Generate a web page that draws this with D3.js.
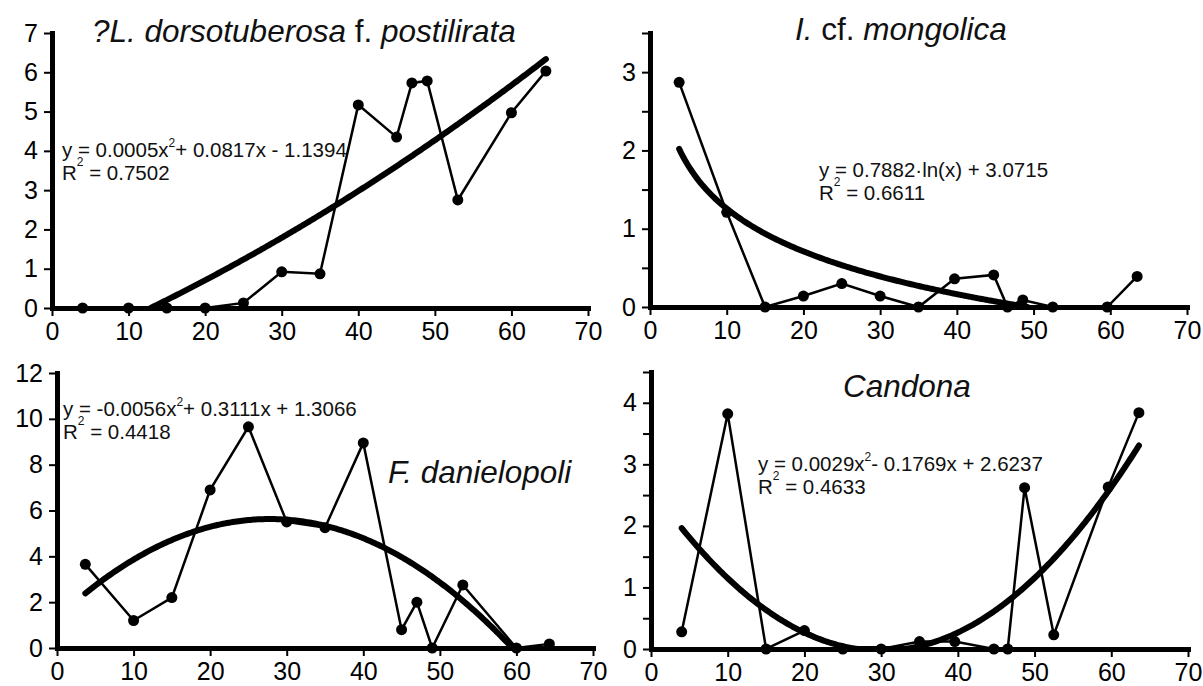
<!DOCTYPE html>
<html>
<head>
<meta charset="utf-8">
<style>
body { margin: 0; background: #fff; }
svg { display: block; font-family: "Liberation Sans", Arial, sans-serif; }
.axis .domain { stroke: #000; stroke-width: 5; stroke-linecap: square; }
.axis .tick line { stroke: #000; stroke-width: 2; }
.axis text { font-family: "Liberation Sans", Arial, sans-serif; font-size: 25px; fill: #000; }
</style>
</head>
<body>
<svg class="chart"></svg>

<script src="https://d3js.org/d3.v7.min.js"></script>
<script>
width  = 1203
height = 686

xTicks = [0, 10, 20, 30, 40, 50, 60, 70]

// ?L. dorsotuberosa f. postilirata
dorsoX = [4, 10, 15, 20, 25, 30, 35, 40, 45, 47, 49, 53, 60, 64.5]
dorsoY = [0, 0, 0, 0, 0.13, 0.92, 0.87, 5.17, 4.35, 5.73, 5.78, 2.75, 4.97, 6.03]
dorsoYTicks = [0, 1, 2, 3, 4, 5, 6, 7]
dorsoYLabels = [0, 1, 2, 3, 4, 5, 6, 7]
dorsoTrend = [0.00053, 0.0817, -1.1394]          // a*x^2 + b*x + c
dorsoTitle = [["?L. dorsotuberosa", true], [" f. ", false], ["postilirata", true]]
dorsoEq = ["y = 0.0005x²+ 0.0817x - 1.1394", "R² = 0.7502"]

// I. cf. mongolica
mongX = [3.8, 10, 15, 20, 25, 30, 35, 39.7, 44.8, 46.6, 48.6, 52.5, 59.6, 63.5]
mongY = [2.87, 1.21, 0, 0.14, 0.3, 0.14, 0, 0.36, 0.41, 0, 0.09, 0, 0, 0.39]
mongYTicks = [0, 0.5, 1, 1.5, 2, 2.5, 3, 3.5]
mongYLabels = [0, 1, 2, 3]
mongTrend = [-0.7882, 3.0715]                     // a*ln(x) + b
mongTitle = [["I.", true], [" cf. ", false], ["mongolica", true]]
mongEq = ["y = 0.7882·ln(x) + 3.0715", "R² = 0.6611"]

// F. danielopoli
danX = [3.7, 10, 15, 20, 25, 30, 35, 40, 45, 47, 49, 53, 60, 64.3]
danY = [3.65, 1.2, 2.2, 6.9, 9.65, 5.5, 5.25, 8.95, 0.8, 2.0, 0, 2.75, 0, 0.18]
danYTicks = [0, 2, 4, 6, 8, 10, 12]
danYLabels = [0, 2, 4, 6, 8, 10, 12]
danTrend = [-0.0056, 0.3111, 1.3066]
danTitle = [["F. danielopoli", true]]
danEq = ["y = -0.0056x²+ 0.3111x + 1.3066", "R² = 0.4418"]

// Candona
candX = [4, 10, 15, 20, 25, 30, 35, 39.6, 44.7, 46.5, 48.7, 52.5, 59.6, 63.6]
candY = [0.28, 3.82, 0, 0.3, 0, 0, 0.12, 0.12, 0, 0, 2.62, 0.23, 2.63, 3.84]
candYTicks = [0, 0.5, 1, 1.5, 2, 2.5, 3, 3.5, 4, 4.5]
candYLabels = [0, 1, 2, 3, 4]
candTrend = [0.00295, -0.1769, 2.6237]
candTitle = [["Candona", true]]
candEq = ["y = 0.0029x²- 0.1769x + 2.6237", "R² = 0.4633"]

quad = c => v => c[0] * v * v + c[1] * v + c[2]
logf = c => v => c[0] * Math.log(v) + c[1]

panels = [
  {xs: dorsoX, ys: dorsoY, yMax: 7, yTicks: dorsoYTicks, yLabels: dorsoYLabels,
   f: quad(dorsoTrend), t0: 12.9, t1: 64.5, title: dorsoTitle, eq: dorsoEq,
   left: 52, right: 588, top: 33, bottom: 308,
   titlePos: [92, 42], eqPos: [62, 157]},
  {xs: mongX, ys: mongY, yMax: 3.5, yTicks: mongYTicks, yLabels: mongYLabels,
   f: logf(mongTrend), t0: 3.8, t1: 49.2, title: mongTitle, eq: mongEq,
   left: 650, right: 1187, top: 33, bottom: 307,
   titlePos: [795, 40], eqPos: [819, 177]},
  {xs: danX, ys: danY, yMax: 12, yTicks: danYTicks, yLabels: danYLabels,
   f: quad(danTrend), t0: 3.7, t1: 59.5, title: danTitle, eq: danEq,
   left: 57, right: 593, top: 373, bottom: 648,
   titlePos: [388, 483], eqPos: [63, 416]},
  {xs: candX, ys: candY, yMax: 4.5, yTicks: candYTicks, yLabels: candYLabels,
   f: quad(candTrend), t0: 4, t1: 63.6, title: candTitle, eq: candEq,
   left: 651, right: 1188, top: 372, bottom: 649,
   titlePos: [843, 397], eqPos: [758, 471]}
]

const svg = d3.select("svg")
    .attr("width", width)
    .attr("height", height)
    .attr("viewBox", [0, 0, width, height]);

svg.append("rect").attr("width", width).attr("height", height).attr("fill", "#fff");

panels.forEach(p => {
  const x = d3.scaleLinear().domain([0, 70]).range([p.left, p.right]);
  const y = d3.scaleLinear().domain([0, p.yMax]).range([p.bottom, p.top]);

  svg.append("g")
      .attr("class", "axis")
      .attr("transform", `translate(0,${p.bottom})`)
      .call(d3.axisBottom(x).tickValues(xTicks).tickSize(8).tickSizeOuter(0).tickPadding(6));

  svg.append("g")
      .attr("class", "axis")
      .attr("transform", `translate(${p.left},0)`)
      .call(d3.axisLeft(y).tickValues(p.yTicks)
        .tickFormat(d => p.yLabels.includes(d) ? d : "")
        .tickSize(8).tickSizeOuter(0).tickPadding(6));

  // trend line
  const tx = d3.range(p.t0, p.t1, 0.25).concat([p.t1]);
  svg.append("path")
      .datum(tx.map(v => [v, Math.max(0, p.f(v))]))
      .attr("fill", "none")
      .attr("stroke", "#000")
      .attr("stroke-width", 6)
      .attr("stroke-linecap", "round")
      .attr("d", d3.line().x(d => x(d[0])).y(d => y(d[1])));

  // observed values
  const pts = p.xs.map((v, i) => [v, p.ys[i]]);
  svg.append("path")
      .datum(pts)
      .attr("fill", "none")
      .attr("stroke", "#000")
      .attr("stroke-width", 2.5)
      .attr("d", d3.line().x(d => x(d[0])).y(d => y(d[1])));

  svg.append("g")
    .selectAll("circle")
    .data(pts)
    .join("circle")
      .attr("cx", d => x(d[0]))
      .attr("cy", d => y(d[1]))
      .attr("r", 5.5)
      .attr("fill", "#000");

  // title
  const t = svg.append("text")
      .attr("x", p.titlePos[0])
      .attr("y", p.titlePos[1])
      .attr("font-size", 31.5)
      .attr("fill", "#111");
  p.title.forEach(([s, it]) => t.append("tspan")
      .attr("font-style", it ? "italic" : "normal")
      .attr("xml:space", "preserve")
      .text(s));

  // equation and R²
  p.eq.forEach((line, k) => {
    const e = svg.append("text")
        .attr("x", p.eqPos[0])
        .attr("y", p.eqPos[1] + k * 23)
        .attr("font-size", 20.5)
        .attr("fill", "#111")
        .attr("xml:space", "preserve");
    const parts = line.split("²");
    const shift = k == 0 ? 10 : 14;
    parts.forEach((s, j) => {
      if (j > 0) {
        e.append("tspan").attr("dy", -shift).attr("font-size", 12).text("2");
        e.append("tspan").attr("dy", shift).text(s);
      } else {
        e.append("tspan").text(s);
      }
    });
  });
});
</script>
</body>
</html>
